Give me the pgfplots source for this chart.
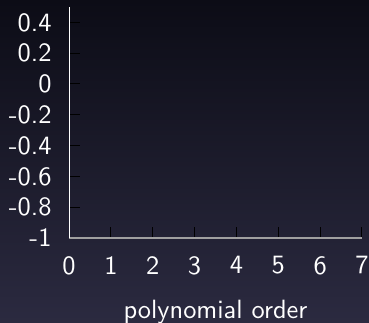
\documentclass[border=0pt]{standalone}
\usepackage{fontspec}
\newfontfamily\cmssfont{lmsans10-regular.otf}
\usepackage{pgfplots}
\pgfplotsset{compat=1.18}
\definecolor{bgtop}{HTML}{0C0C16}
\definecolor{bgbot}{HTML}{2B2A40}
\definecolor{xaxisgray}{HTML}{A0A0A0}
\begin{document}
\begin{tikzpicture}
\shade[top color=bgtop, bottom color=bgbot] (0,0) rectangle (369bp,323bp);
\begin{axis}[
  at={(69bp,85bp)}, anchor=south west,
  scale only axis, width=293bp, height=231bp,
  xmin=0, xmax=7, ymin=-1, ymax=0.5,
  xtick={0,1,2,3,4,5,6,7},
  ytick={-1,-0.8,-0.6,-0.4,-0.2,0,0.2,0.4},
  yticklabels={-1,-0.8,-0.6,-0.4,-0.2,0,0.2,0.4},
  axis lines*=left,
  x axis line style={color=xaxisgray, line width=2bp, -},
  y axis line style={color=white, line width=0.8bp, -},
  tick align=inside,
  major tick length=11bp,
  tick style={black, line width=1bp},
  /pgf/number format/assume math mode=true,
  ticklabel style={font=\fontsize{26.5}{30}\cmssfont, text=white},
  xticklabel style={anchor=north, yshift=-15bp},
  yticklabel style={anchor=east, xshift=-14bp},
  xlabel={polynomial order},
  xlabel style={font=\fontsize{26.5}{30}\cmssfont, text=white, anchor=north, yshift=-18.5bp},
]
\end{axis}
\pgfresetboundingbox
\useasboundingbox (0,0) rectangle (369bp,323bp);
\end{tikzpicture}
\end{document}
